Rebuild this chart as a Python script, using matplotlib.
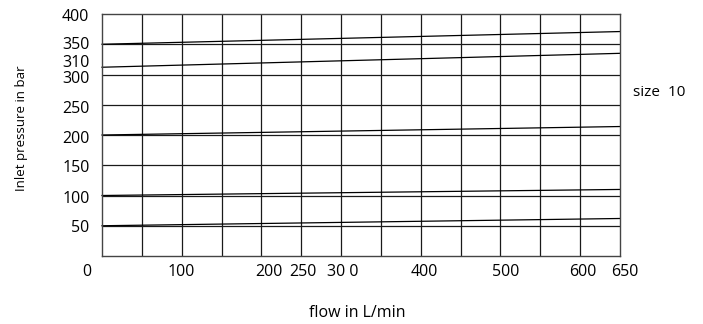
import matplotlib
matplotlib.use("Agg")
import matplotlib.pyplot as plt
from matplotlib.transforms import blended_transform_factory

plt.rcParams['font.family'] = ['Open Sans', 'DejaVu Sans']

# pressure lines: value at flow 0 and at flow 650 (bar)
flow_ends = [0, 650]
line_350 = [350, 371]
line_310 = [312, 335]
line_200 = [200, 214]
line_100 = [100, 110]
line_50 = [50, 62]

# tick labels as printed on the sheet (they do not sit on the grid exactly)
x_labels = ["0", "100", "200", "250", "30 0", "400", "500", "600", "650"]
x_label_pos = [-19, 99, 209, 252, 302, 405, 506, 603, 656]
y_labels = ["400", "350", "310", "300", "250", "200", "150", "100", "50"]
y_label_pos = [399, 352, 322, 296, 247, 197, 149, 98, 50]

fig = plt.figure(figsize=(7.03, 3.24), dpi=100)
ax = fig.add_axes([102/703, 1 - 256/324, 518/703, 242/324])

# grid
for gx in range(50, 650, 50):
    ax.axvline(gx, color='#1a1a1a', lw=0.9)
for gy in range(50, 400, 50):
    ax.axhline(gy, color='#1a1a1a', lw=0.9)

for vals in [line_350, line_310, line_200, line_100, line_50]:
    ax.plot(flow_ends, vals, color='black', lw=0.9, clip_on=False)

ax.set_xticks([])
ax.set_yticks(y_label_pos)
ax.set_yticklabels(y_labels, fontsize=11.5)
ax.set_xlim(0, 650)
ax.set_ylim(0, 400)
ax.tick_params(length=0, pad=9)
for s in ax.spines.values():
    s.set_color('#444444')
    s.set_linewidth(1.0)

# x labels drawn as text so the ones past the frame edges stay visible
trans = blended_transform_factory(ax.transData, ax.transAxes)
for lab, xp in zip(x_labels, x_label_pos):
    ax.text(xp, -0.066, lab, transform=trans, fontsize=11.5,
            ha='center', va='center', clip_on=False)

fig.text(357/703, 1 - 313/324, "flow in L/min", fontsize=11.5, ha='center', va='center')
fig.text(22/703, 1 - 128/324, "Inlet pressure in bar", fontsize=9.5, rotation=90,
         ha='center', va='center')
fig.text(633/703, 1 - 93/324, "size  10", fontsize=11, ha='left', va='center')

fig.savefig("out.png", dpi=100, facecolor='white')
